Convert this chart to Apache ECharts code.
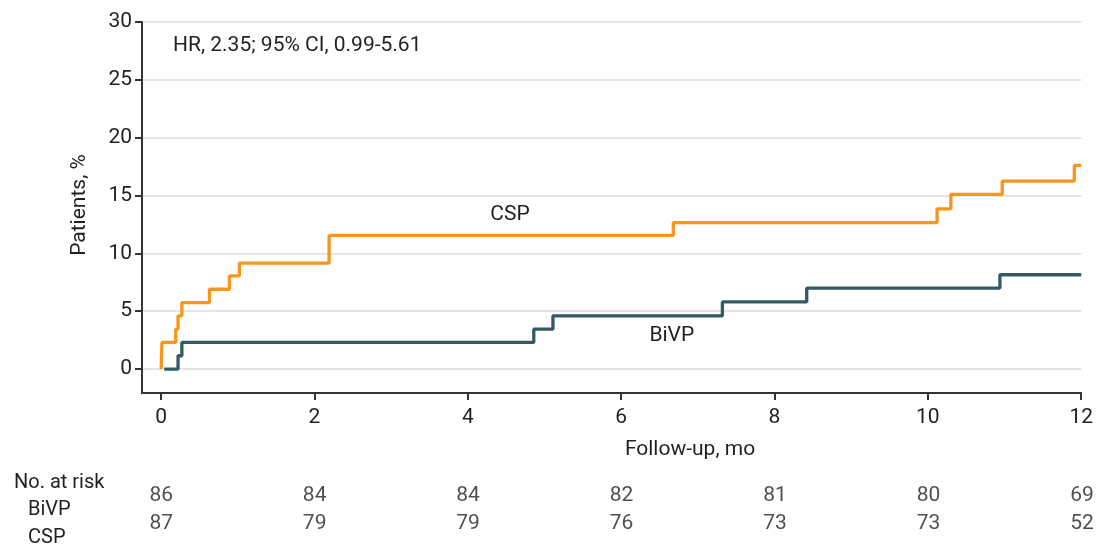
<!DOCTYPE html>
<html>
<head>
<meta charset="utf-8">
<script src="https://cdn.jsdelivr.net/npm/echarts@6/dist/echarts.min.js"></script>
<style>
html,body{margin:0;padding:0;background:#fff;}
#chart{width:1096px;height:549px;}
</style>
</head>
<body>
<div id="chart"></div>
<script>
// ---- data ----
const monthTicks = [0, 2, 4, 6, 8, 10, 12];
const pctTicks = [0, 5, 10, 15, 20, 25, 30];
const riskBiVP = [86, 84, 84, 82, 81, 80, 69];
const riskCSP = [87, 79, 79, 76, 73, 73, 52];
const cspTime = [0, 0.01, 0.19, 0.22, 0.27, 0.63, 0.89, 1.02, 2.19, 6.68, 10.12, 10.3, 10.97, 11.91, 12];
const cspPct  = [0, 2.3, 3.45, 4.6, 5.75, 6.9, 8.05, 9.15, 11.55, 12.65, 13.85, 15.1, 16.25, 17.6, 17.6];
const bivpTime = [0.04, 0.22, 0.27, 4.86, 5.11, 7.32, 8.42, 10.94, 12];
const bivpPct  = [0, 1.15, 2.3, 3.45, 4.6, 5.8, 7.0, 8.15, 8.15];
const hrText = 'HR, 2.35; 95% CI, 0.99-5.61';

const FONT = '"Liberation Sans Narrow", "Roboto", "Noto Sans", sans-serif';
const TXT = '#231f20';
const ORANGE = '#f7961f';
const TEAL = '#335a64';

const zip = (a, b) => a.map((v, i) => [v, b[i]]);
const riskData = [];
monthTicks.forEach((m, i) => {
  riskData.push([m, 0, riskBiVP[i]]);
  riskData.push([m, 1, riskCSP[i]]);
});

const chart = echarts.init(document.getElementById('chart'), null, {renderer: 'canvas'});
chart.setOption({
  animation: false,
  backgroundColor: '#fff',
  textStyle: {fontFamily: FONT, color: TXT},
  grid: [
    {left: 142, right: 14, top: 22, bottom: 156},
    {left: 142, right: 14, top: 496, height: 28}
  ],
  xAxis: [{
    type: 'value', gridIndex: 0, min: -0.25, max: 12,
    axisLine: {show: true, onZero: false, lineStyle: {color: '#333', width: 2}},
    axisTick: {show: true, length: 7, customValues: monthTicks, lineStyle: {color: '#333', width: 2}},
    axisLabel: {customValues: monthTicks, margin: 14, fontSize: 21, color: TXT, fontFamily: FONT},
    splitLine: {show: false}
  }, {
    type: 'value', gridIndex: 1, min: -0.25, max: 12, show: false
  }],
  yAxis: [{
    type: 'value', gridIndex: 0, min: -2.07, max: 30,
    axisLine: {show: true, onZero: false, lineStyle: {color: '#333', width: 2}},
    axisTick: {show: true, length: 7, customValues: pctTicks, lineStyle: {color: '#333', width: 2}},
    axisLabel: {customValues: pctTicks, margin: 10, fontSize: 21, color: TXT, fontFamily: FONT},
    splitLine: {show: true, lineStyle: {color: '#dcdcdc', width: 1.5}}
  }, {
    type: 'value', gridIndex: 1, min: 0, max: 1, inverse: true, show: false
  }],
  series: [{
    name: 'CSP', type: 'line', step: 'end', xAxisIndex: 0, yAxisIndex: 0,
    data: zip(cspTime, cspPct), showSymbol: false, symbol: 'none',
    lineStyle: {color: ORANGE, width: 3.3}, z: 3,
    markPoint: {
      symbolSize: 0,
      data: [{coord: [4.55, 13.3], value: 'CSP'}],
      label: {show: true, formatter: 'CSP', fontSize: 21, color: TXT, fontFamily: FONT}
    }
  }, {
    name: 'BiVP', type: 'line', step: 'end', xAxisIndex: 0, yAxisIndex: 0,
    data: zip(bivpTime, bivpPct), showSymbol: false, symbol: 'none',
    lineStyle: {color: TEAL, width: 3.3}, z: 3,
    markPoint: {
      symbolSize: 0,
      data: [{coord: [6.66, 2.85], value: 'BiVP'}],
      label: {show: true, formatter: 'BiVP', fontSize: 21, color: TXT, fontFamily: FONT}
    }
  }, {
    name: 'risk', type: 'scatter', xAxisIndex: 1, yAxisIndex: 1,
    data: riskData, symbolSize: 1, itemStyle: {color: 'transparent'},
    label: {show: true, position: 'inside', formatter: p => p.value[2], fontSize: 21, color: TXT, fontFamily: FONT},
    silent: true
  }],
  graphic: [
    {type: 'text', left: 173, top: 35, style: {text: hrText, fill: TXT, font: '21px ' + FONT}},
    {type: 'text', x: 690, y: 450, style: {text: 'Follow-up, mo', fill: TXT, font: '21px ' + FONT, align: 'center', verticalAlign: 'middle'}},
    {type: 'text', x: 80, y: 205, rotation: Math.PI / 2, style: {text: 'Patients, %', fill: TXT, font: '21px ' + FONT, align: 'center', verticalAlign: 'middle'}},
    {type: 'text', x: 14, y: 483, style: {text: 'No. at risk', fill: TXT, font: '20px ' + FONT, verticalAlign: 'middle'}},
    {type: 'text', x: 28, y: 510, style: {text: 'BiVP', fill: TXT, font: '20px ' + FONT, verticalAlign: 'middle'}},
    {type: 'text', x: 28, y: 538, style: {text: 'CSP', fill: TXT, font: '20px ' + FONT, verticalAlign: 'middle'}}
  ]
});
</script>
</body>
</html>
